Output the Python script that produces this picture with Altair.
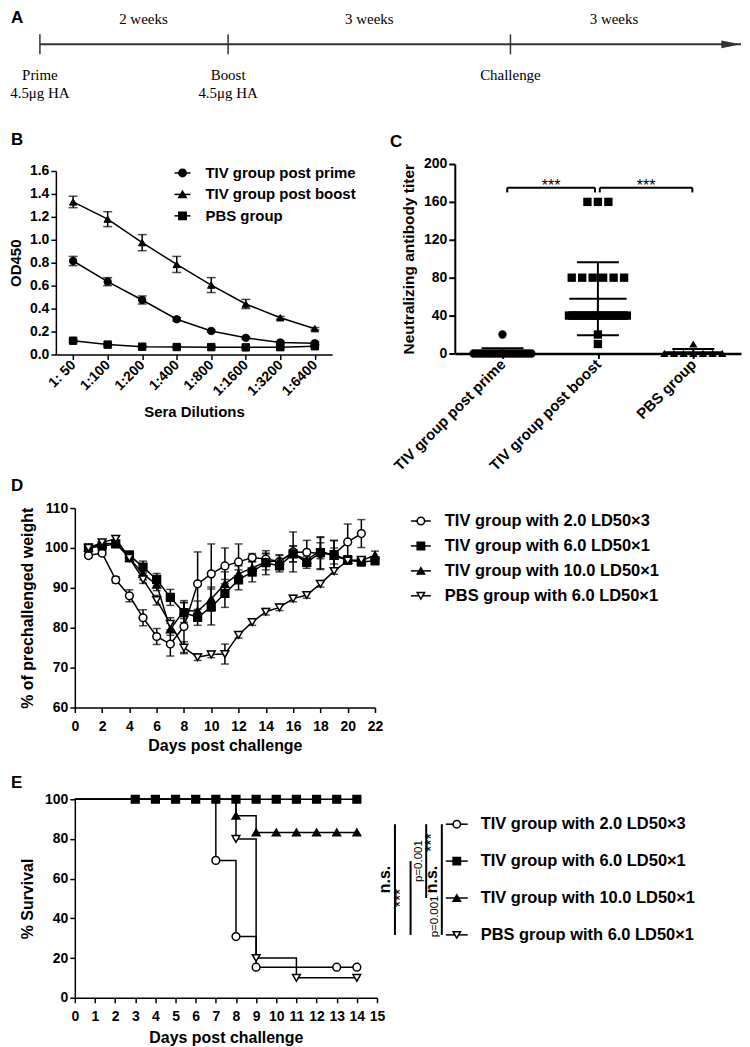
import altair as alt
import pandas as pd

FONT = "Liberation Sans"
SERIF = "Liberation Serif"

# ======================= Panel A : timeline (weeks) =======================
a_event_week = [0, 2, 5]
a_event_name = ["Prime", "Boost", "Challenge"]
a_event_dose = ["4.5\u03bcg HA", "4.5\u03bcg HA", ""]
a_period_week = [1.1, 3.5, 6.1]
a_period_label = ["2 weeks", "3 weeks", "3 weeks"]
a_timeline_end = [7.45]

# ======================= Panel B : ELISA OD450 =======================
b_dilutions = ["1: 50", "1:100", "1:200", "1:400", "1:800", "1:1600", "1:3200", "1:6400"]
b_series = ["TIV group post prime", "TIV group post boost", "PBS group"]
b_prime = [0.815, 0.635, 0.475, 0.307, 0.205, 0.145, 0.105, 0.098]
b_prime_sd = [0.04, 0.035, 0.035, 0.012, 0.01, 0.01, 0.01, 0.01]
b_boost = [1.33, 1.18, 0.975, 0.785, 0.605, 0.44, 0.32, 0.225]
b_boost_sd = [0.05, 0.065, 0.07, 0.07, 0.065, 0.04, 0.012, 0.01]
b_pbs = [0.12, 0.086, 0.068, 0.065, 0.064, 0.062, 0.064, 0.072]
b_pbs_sd = [0.01, 0.008, 0.006, 0.006, 0.006, 0.006, 0.006, 0.008]

# ======================= Panel C : neutralizing titers =======================
c_groups = ["TIV group post prime", "TIV group post boost", "PBS group"]
c_prime = [0, 0, 0, 0, 0, 0, 0, 0, 0, 0, 0, 0, 0, 0, 0, 0, 0, 0, 0, 20]
c_boost = [160, 160, 160, 80, 80, 80, 80, 80, 80,
           40, 40, 40, 40, 40, 40, 40, 40, 40, 40,
           40, 40, 40, 40, 40, 40, 40, 40, 40, 40, 20, 10]
c_pbs = [0, 0, 0, 0, 0, 0, 0, 10]
c_cmp_x1 = [0.05, 1.02]
c_cmp_x2 = [0.97, 1.99]
c_cmp_label = ["***", "***"]
c_cmp_level = [175, 175]

# ======================= Panel D : body weight =======================
d_series = ["TIV group with 2.0 LD50\u00d73", "TIV group with 6.0 LD50\u00d71",
            "TIV group with 10.0 LD50\u00d71", "PBS group with 6.0 LD50\u00d71"]
d_days_circle = [1, 2, 3, 4, 5, 6, 7, 8, 9, 10, 11, 12, 13, 14, 15, 16, 17, 18, 19, 20, 21]
d_circle = [98.1, 98.7, 92.0, 88.0, 82.5, 77.8, 75.9, 80.3, 91.0, 93.5, 95.5, 96.5, 97.6, 97.2,
            96.6, 99.0, 98.9, 98.6, 98.4, 101.5, 103.6]
d_circle_sd = [0.5, 0.5, 0.8, 1.5, 2.0, 2.0, 3.0, 6.5, 8.0, 7.5, 4.5, 4.5, 1.0, 1.5, 1.5, 5.0,
               3.0, 4.0, 3.5, 4.5, 3.5]
d_days_square = [1, 2, 3, 4, 5, 6, 7, 8, 9, 10, 11, 12, 13, 14, 15, 16, 17, 18, 19, 20, 21, 22]
d_square = [100.0, 100.5, 101.0, 98.2, 95.2, 92.1, 87.6, 83.8, 82.6, 85.2, 88.6, 92.0, 94.0, 96.3,
            95.5, 98.5, 96.4, 98.8, 98.3, 97.0, 96.5, 96.8]
d_square_sd = [0.8, 0.8, 0.8, 1.0, 1.5, 1.5, 2.0, 2.5, 2.0, 4.5, 3.5, 2.5, 2.5, 3.0, 1.5, 2.0,
               1.5, 4.0, 3.5, 1.0, 1.0, 1.0]
d_days_triangle = [1, 2, 3, 4, 5, 6, 7, 8, 9, 10, 11, 12, 13, 14, 15, 16, 17, 18, 19, 20, 21, 22]
d_triangle = [100.0, 101.0, 101.2, 97.5, 93.5, 90.8, 79.6, 84.3, 84.2, 87.2, 91.0, 93.5, 95.0, 96.5,
              96.8, 98.5, 97.0, 99.3, 98.0, 97.0, 96.8, 98.2]
d_triangle_sd = [0.5, 0.5, 0.5, 1.0, 1.5, 1.5, 1.5, 2.0, 2.5, 3.0, 3.0, 2.0, 2.0, 2.0, 1.5, 2.0,
                 1.5, 2.0, 2.0, 1.0, 1.0, 1.0]
d_days_pbs = [1, 2, 3, 4, 5, 6, 7, 8, 9, 10, 11, 12, 13, 14, 15, 16, 17, 18, 19, 20, 21]
d_pbs = [100.0, 101.4, 102.3, 97.5, 92.1, 86.9, 81.0, 75.0, 72.6, 73.3, 73.4, 78.2, 81.4, 84.0,
         85.1, 87.3, 88.2, 91.0, 94.2, 96.8, 97.0]
d_pbs_sd = [0.5, 0.5, 0.5, 0.8, 1.0, 1.2, 1.5, 1.5, 0.8, 0.8, 2.5, 0.8, 0.8, 0.8, 0.8, 0.8,
            0.8, 0.8, 0.8, 0.8, 0.8]

# ======================= Panel E : survival =======================
e_step_day_circle = [0, 7, 8, 9, 14]
e_step_circle = [100, 69.2, 30.8, 15.4, 15.4]
e_step_day_square = [0, 14]
e_step_square = [100, 100]
e_step_day_triangle = [0, 8, 9, 14]
e_step_triangle = [100, 91.7, 83.3, 83.3]
e_step_day_pbs = [0, 8, 9, 11, 14]
e_step_pbs = [100, 80, 20, 10, 10]
e_mark_day_circle = [7, 8, 9, 13, 14]
e_mark_circle = [69.2, 30.8, 15.4, 15.4, 15.4]
e_mark_day_square = [3, 4, 5, 6, 7, 8, 9, 10, 11, 12, 13, 14]
e_mark_square = [100, 100, 100, 100, 100, 100, 100, 100, 100, 100, 100, 100]
e_mark_day_triangle = [8, 9, 10, 11, 12, 13, 14]
e_mark_triangle = [91.7, 83.3, 83.3, 83.3, 83.3, 83.3, 83.3]
e_mark_day_pbs = [8, 9, 11, 14]
e_mark_pbs = [80, 20, 10, 10]
e_cmp_from = [0, 1, 0, 0, 1, 2]
e_cmp_to = [3, 3, 2, 1, 2, 3]
e_cmp_col = [0, 1, 2, 3, 3, 3]
e_cmp_label = ["n.s.", "***", "p=0.001", "***", "n.s.", "p=0.001"]

shapes_d = ["circle", "square", "triangle-up", "triangle-down"]
fills_d = ["white", "black", "black", "white"]


def letter(tag, x, y, baseline="middle"):
    return alt.Chart(pd.DataFrame({"tag": [tag]})).mark_text(
        font=FONT, fontWeight="bold", fontSize=17, align="left", baseline=baseline, color="black"
    ).encode(x=alt.value(x), y=alt.value(y), text="tag:N")


def legend_layers(names, ys, xl, xs, xt, shp, fil, fsize, msize=55):
    df = pd.DataFrame({"series": names, "idx": list(range(len(names)))})
    y = alt.Y("idx:Q", scale=ys, axis=None)
    base = alt.Chart(df)
    ln = base.mark_rule(color="black", strokeWidth=1.5).encode(
        x=alt.value(xl[0]), x2=alt.value(xl[1]), y=y)
    sy = base.mark_point(opacity=1, stroke="black", strokeWidth=1.5, size=msize).encode(
        x=alt.value(xs), y=y,
        shape=alt.Shape("series:N", scale=shp, legend=None),
        fill=alt.Fill("series:N", scale=fil, legend=None))
    tx = base.mark_text(align="left", baseline="middle", font=FONT, fontWeight="bold",
                        fontSize=fsize, color="black").encode(x=alt.value(xt), y=y, text="series:N")
    return [ln, sy, tx]


# ----------------------------- A -----------------------------
a_events = pd.DataFrame({"week": a_event_week, "name": a_event_name, "dose": a_event_dose})
a_periods = pd.DataFrame({"week": a_period_week, "label": a_period_label})
a_line = pd.DataFrame({"start": [0], "end": a_timeline_end})
sxA = alt.Scale(domain=[0, 7.45], range=[-35, 668], nice=False, zero=False)
TL = "#333333"
a_rule = alt.Chart(a_line).mark_rule(color=TL, strokeWidth=2).encode(
    x=alt.X("start:Q", scale=sxA, axis=None), x2="end:Q", y=alt.value(34))
a_head = alt.Chart(a_line).mark_point(shape="M-1,-0.4L1,0L-1,0.4Z", filled=True, color=TL,
                                      opacity=1, size=380).encode(
    x=alt.X("end:Q", scale=sxA, axis=None), xOffset=alt.value(-10), y=alt.value(34))
a_ticks = alt.Chart(a_events).mark_rule(color=TL, strokeWidth=1.5).encode(
    x=alt.X("week:Q", scale=sxA, axis=None), y=alt.value(24), y2=alt.value(44))
a_names = alt.Chart(a_events).mark_text(font=SERIF, fontSize=15, color="black").encode(
    x=alt.X("week:Q", scale=sxA, axis=None), y=alt.value(65), text="name:N")
a_doses = alt.Chart(a_events).mark_text(font=SERIF, fontSize=15, color="black").encode(
    x=alt.X("week:Q", scale=sxA, axis=None), y=alt.value(83), text="dose:N")
a_per = alt.Chart(a_periods).mark_text(font=SERIF, fontSize=15, color="black").encode(
    x=alt.X("week:Q", scale=sxA, axis=None), y=alt.value(9), text="label:N")
A = alt.layer(a_rule, a_head, a_ticks, a_names, a_doses, a_per,
              letter("A", -64, 0, "top")).properties(width=301, height=69)

# ----------------------------- B -----------------------------
rows = []
for s, vals, sds in zip(b_series, [b_prime, b_boost, b_pbs], [b_prime_sd, b_boost_sd, b_pbs_sd]):
    for i, (d, v, e) in enumerate(zip(b_dilutions, vals, sds)):
        rows.append({"series": s, "dilution": d, "di": i, "od": v, "sd": e})
b_df = pd.DataFrame(rows)
sxB = alt.Scale(type="point", domain=b_dilutions, range=[-19, 258], padding=0.5)
syB = alt.Scale(domain=[0, 1.6], range=[184, 0], nice=False, zero=False)
axBx = alt.Axis(orient="bottom", offset=-62, labelAngle=-45, labelAlign="right",
                labelBaseline="middle", labelPadding=3, title="Sera Dilutions",
                titleFontSize=15, titlePadding=6)
axBy = alt.Axis(orient="left", offset=19, values=[0, 0.2, 0.4, 0.6, 0.8, 1.0, 1.2, 1.4, 1.6],
                format=".1f", title="OD450", titleFontSize=15, titlePadding=6)
XB = alt.X("dilution:N", scale=sxB, axis=axBx)
shB = alt.Scale(domain=b_series, range=["circle", "triangle-up", "square"])
fiB = alt.Scale(domain=b_series, range=["black", "black", "black"])
bb = alt.Chart(b_df).transform_calculate(lo="datum.od - datum.sd", hi="datum.od + datum.sd")
b_line = bb.mark_line(color="black", strokeWidth=1.5).encode(
    x=XB, y=alt.Y("od:Q", scale=syB, axis=axBy), detail="series:N", order="di:Q")
b_err = bb.mark_rule(color="black", strokeWidth=1.5).encode(
    x=XB, y=alt.Y("lo:Q", scale=syB, axis=axBy), y2="hi:Q")
b_cap1 = bb.mark_tick(color="black", thickness=1.5, size=9, orient="horizontal").encode(
    x=XB, y=alt.Y("hi:Q", scale=syB, axis=axBy))
b_cap2 = bb.mark_tick(color="black", thickness=1.5, size=9, orient="horizontal").encode(
    x=XB, y=alt.Y("lo:Q", scale=syB, axis=axBy))
b_pts = bb.mark_point(opacity=1, stroke="black", strokeWidth=1, size=55).encode(
    x=XB, y=alt.Y("od:Q", scale=syB, axis=axBy),
    shape=alt.Shape("series:N", scale=shB, legend=None),
    fill=alt.Fill("series:N", scale=fiB, legend=None))
B_layer = alt.layer(b_line, b_err, b_cap1, b_cap2, b_pts)
syBL = alt.Scale(domain=[0, 2], range=[2, 45], nice=False, zero=False)
BL_layer = alt.layer(*legend_layers(b_series, syBL, (100, 116), 108, 131, shB, fiB, 15),
                     letter("B", -64, -31), letter("C", 316, -29))

# ----------------------------- C -----------------------------
rows = []
for gi, (g, vals) in enumerate(zip(c_groups, [c_prime, c_boost, c_pbs])):
    for v in vals:
        rows.append({"group": g, "gi": gi, "titer": v})
c_df = pd.DataFrame(rows)
sxC = alt.Scale(domain=[-0.5, 2.5], range=[381, 668], nice=False, zero=False)
syC = alt.Scale(domain=[0, 200], range=[183, -7], nice=False, zero=False)
label_expr = "[" + ",".join("'%s'" % g for g in c_groups) + "][datum.value]"
axCx = alt.Axis(orient="bottom", offset=-63, values=[0, 1, 2], labelExpr=label_expr,
                labelAngle=-45, labelAlign="right", labelBaseline="middle", labelPadding=3,
                labelFontSize=15, domainWidth=2.5, tickWidth=2, tickSize=5, title=None)
axCy = alt.Axis(orient="left", offset=-381, values=[0, 40, 80, 120, 160, 200],
                title="Neutralizing antibody titer", titleFontSize=15.5, titlePadding=7,
                domainWidth=2, tickWidth=2, tickSize=6)
shC = alt.Scale(domain=c_groups, range=["circle", "square", "triangle-up"])
c_pts = (alt.Chart(c_df)
         .transform_window(rank="row_number()", groupby=["gi", "titer"])
         .transform_joinaggregate(n="count()", groupby=["gi", "titer"])
         .transform_calculate(sp="datum.n > 1 ? min(10.5, 58 / (datum.n - 1)) : 0")
         .transform_calculate(xpos="datum.gi + (datum.rank - (datum.n + 1) / 2) * datum.sp / 95.67")
         .mark_point(filled=True, color="black", opacity=1, size=70)
         .encode(x=alt.X("xpos:Q", scale=sxC, axis=axCx),
                 y=alt.Y("titer:Q", scale=syC, axis=axCy),
                 shape=alt.Shape("group:N", scale=shC, legend=None)))
cs = (alt.Chart(c_df)
      .transform_aggregate(m="mean(titer)", s="stdev(titer)", groupby=["gi"])
      .transform_calculate(hi="datum.m + datum.s", lo="max(0, datum.m - datum.s)",
                           l1="datum.gi - 0.3", r1="datum.gi + 0.3",
                           l2="datum.gi - 0.22", r2="datum.gi + 0.22"))
c_mean = cs.mark_rule(color="black", strokeWidth=2).encode(
    x=alt.X("l1:Q", scale=sxC, axis=axCx), x2="r1:Q", y=alt.Y("m:Q", scale=syC, axis=axCy))
c_sdv = cs.mark_rule(color="black", strokeWidth=2).encode(
    x=alt.X("gi:Q", scale=sxC, axis=axCx), y=alt.Y("lo:Q", scale=syC, axis=axCy), y2="hi:Q")
c_ch = cs.mark_rule(color="black", strokeWidth=2).encode(
    x=alt.X("l2:Q", scale=sxC, axis=axCx), x2="r2:Q", y=alt.Y("hi:Q", scale=syC, axis=axCy))
c_cl = cs.mark_rule(color="black", strokeWidth=2).encode(
    x=alt.X("l2:Q", scale=sxC, axis=axCx), x2="r2:Q", y=alt.Y("lo:Q", scale=syC, axis=axCy))
c_br_df = pd.DataFrame({"x1": c_cmp_x1, "x2": c_cmp_x2, "label": c_cmp_label, "level": c_cmp_level})
cb = alt.Chart(c_br_df).transform_calculate(foot="datum.level - 5", mid="(datum.x1 + datum.x2) / 2")
c_bh = cb.mark_rule(color="black", strokeWidth=2).encode(
    x=alt.X("x1:Q", scale=sxC, axis=axCx), x2="x2:Q", y=alt.Y("level:Q", scale=syC, axis=axCy))
c_bl = cb.mark_rule(color="black", strokeWidth=2).encode(
    x=alt.X("x1:Q", scale=sxC, axis=axCx), y=alt.Y("level:Q", scale=syC, axis=axCy), y2="foot:Q")
c_br = cb.mark_rule(color="black", strokeWidth=2).encode(
    x=alt.X("x2:Q", scale=sxC, axis=axCx), y=alt.Y("level:Q", scale=syC, axis=axCy), y2="foot:Q")
c_bt = cb.mark_text(font=FONT, fontSize=16, baseline="alphabetic", dy=3, color="black").encode(
    x=alt.X("mid:Q", scale=sxC, axis=axCx), y=alt.Y("level:Q", scale=syC, axis=axCy), text="label:N")
C_layer = alt.layer(c_mean, c_sdv, c_ch, c_cl, c_pts, c_bh, c_bl, c_br, c_bt)

BC = (alt.layer(B_layer, BL_layer, C_layer)
      .resolve_scale(x="independent", y="independent", shape="independent", fill="independent")
      .properties(width=301, height=246))

# ----------------------------- D -----------------------------
rows = []
for s, days, vals, sds in zip(d_series,
                              [d_days_circle, d_days_square, d_days_triangle, d_days_pbs],
                              [d_circle, d_square, d_triangle, d_pbs],
                              [d_circle_sd, d_square_sd, d_triangle_sd, d_pbs_sd]):
    for d, v, e in zip(days, vals, sds):
        rows.append({"series": s, "day": d, "w": v, "sd": e})
d_df = pd.DataFrame(rows)
sxD = alt.Scale(domain=[0, 22], nice=False, zero=False)
syD = alt.Scale(domain=[60, 110], nice=False, zero=False)
axDx = alt.Axis(values=list(range(0, 23, 2)), title="Days post challenge", labelPadding=7,
                titlePadding=4)
axDy = alt.Axis(values=[60, 70, 80, 90, 100, 110], title="% of prechallenged weight",
                titlePadding=9)
shD = alt.Scale(domain=d_series, range=shapes_d)
fiD = alt.Scale(domain=d_series, range=fills_d)
XD = alt.X("day:Q", scale=sxD, axis=axDx)
db = alt.Chart(d_df).transform_calculate(lo="datum.w - datum.sd", hi="datum.w + datum.sd")
d_line = db.mark_line(color="black", strokeWidth=1.5).encode(
    x=XD, y=alt.Y("w:Q", scale=syD, axis=axDy), detail="series:N", order="day:Q")
d_err = db.mark_rule(color="black", strokeWidth=1.5).encode(
    x=XD, y=alt.Y("lo:Q", scale=syD, axis=axDy), y2="hi:Q")
d_c1 = db.mark_tick(color="black", thickness=1.5, size=8, orient="horizontal").encode(
    x=XD, y=alt.Y("hi:Q", scale=syD, axis=axDy))
d_c2 = db.mark_tick(color="black", thickness=1.5, size=8, orient="horizontal").encode(
    x=XD, y=alt.Y("lo:Q", scale=syD, axis=axDy))
d_pts = db.mark_point(opacity=1, stroke="black", strokeWidth=1.5, size=60).encode(
    x=XD, y=alt.Y("w:Q", scale=syD, axis=axDy),
    shape=alt.Shape("series:N", scale=shD, legend=None),
    fill=alt.Fill("series:N", scale=fiD, legend=None))
D_data = alt.layer(d_line, d_err, d_c1, d_c2, d_pts)
syDL = alt.Scale(domain=[0, 3], range=[13, 88], nice=False, zero=False)
D_leg = alt.layer(*legend_layers(d_series, syDL, (337, 357), 347, 371, shD, fiD, 16.5),
                  letter("D", -64, -22))
D = alt.layer(D_data, D_leg).resolve_scale(y="independent").properties(width=301, height=200)

# ----------------------------- E -----------------------------
rows = []
for s, days, vals in zip(d_series,
                         [e_step_day_circle, e_step_day_square, e_step_day_triangle, e_step_day_pbs],
                         [e_step_circle, e_step_square, e_step_triangle, e_step_pbs]):
    for d, v in zip(days, vals):
        rows.append({"series": s, "day": d, "surv": v})
e_step_df = pd.DataFrame(rows)
rows = []
for s, days, vals in zip(d_series,
                         [e_mark_day_circle, e_mark_day_square, e_mark_day_triangle, e_mark_day_pbs],
                         [e_mark_circle, e_mark_square, e_mark_triangle, e_mark_pbs]):
    for d, v in zip(days, vals):
        rows.append({"series": s, "day": d, "surv": v})
e_mark_df = pd.DataFrame(rows)
sxE = alt.Scale(domain=[0, 15], nice=False, zero=False)
syE = alt.Scale(domain=[0, 100], nice=False, zero=False)
axEx = alt.Axis(values=list(range(0, 16)), title="Days post challenge", labelPadding=7,
                titlePadding=6)
axEy = alt.Axis(values=[0, 20, 40, 60, 80, 100], title="% Survival", titlePadding=9)
e_line = alt.Chart(e_step_df).mark_line(interpolate="step-after", color="black",
                                        strokeWidth=1.5).encode(
    x=alt.X("day:Q", scale=sxE, axis=axEx), y=alt.Y("surv:Q", scale=syE, axis=axEy),
    detail="series:N", order="day:Q")
e_pts = alt.Chart(e_mark_df).mark_point(opacity=1, stroke="black", strokeWidth=1.5, size=60).encode(
    x=alt.X("day:Q", scale=sxE, axis=axEx), y=alt.Y("surv:Q", scale=syE, axis=axEy),
    shape=alt.Shape("series:N", scale=shD, legend=None),
    fill=alt.Fill("series:N", scale=fiD, legend=None))
E_data = alt.layer(e_line, e_pts)
sxEA = alt.Scale(domain=[0, 3], range=[321, 368], nice=False, zero=False)
syEA = alt.Scale(domain=[0, 3], range=[25, 136], nice=False, zero=False)
e_br_df = pd.DataFrame({"frm": e_cmp_from, "to": e_cmp_to, "col": e_cmp_col, "label": e_cmp_label})
eb = alt.Chart(e_br_df).transform_calculate(mid="(datum.frm + datum.to) / 2")
e_br = eb.mark_rule(color="black", strokeWidth=2).encode(
    x=alt.X("col:Q", scale=sxEA, axis=None), y=alt.Y("frm:Q", scale=syEA, axis=None), y2="to:Q")


def e_lab(lbl, size, weight):
    return eb.transform_filter(alt.datum.label == lbl).mark_text(
        font=FONT, fontSize=size, fontWeight=weight, angle=270, align="center",
        baseline="bottom", color="black").encode(
        x=alt.X("col:Q", scale=sxEA, axis=None), xOffset=alt.value(-2),
        y=alt.Y("mid:Q", scale=syEA, axis=None), text="label:N")


E_ann = alt.layer(*legend_layers(d_series, syEA, (372, 394), 383, 407, shD, fiD, 16.5),
                  e_br, e_lab("n.s.", 16, "bold"), e_lab("***", 16, "normal"),
                  e_lab("p=0.001", 11.5, "normal"), letter("E", -64, -16))
E = (alt.layer(E_data, E_ann).resolve_scale(x="independent", y="independent")
     .properties(width=303, height=199))

chart = (alt.vconcat(A, BC, D, E, spacing=92, bounds="flush")
         .properties(padding=0)
         .configure_view(stroke=None)
         .configure_axis(labelFont=FONT, titleFont=FONT, labelFontSize=14, labelFontWeight="bold",
                         titleFontSize=16, titleFontWeight="bold", labelColor="black",
                         titleColor="black", domainColor="black", tickColor="black",
                         domainWidth=1.5, tickWidth=1.5, tickSize=5, grid=False,
                         labelPadding=2, labelFlush=False, labelOverlap=False))

chart.save("out.html", embed_options={"renderer": "svg", "actions": False})
